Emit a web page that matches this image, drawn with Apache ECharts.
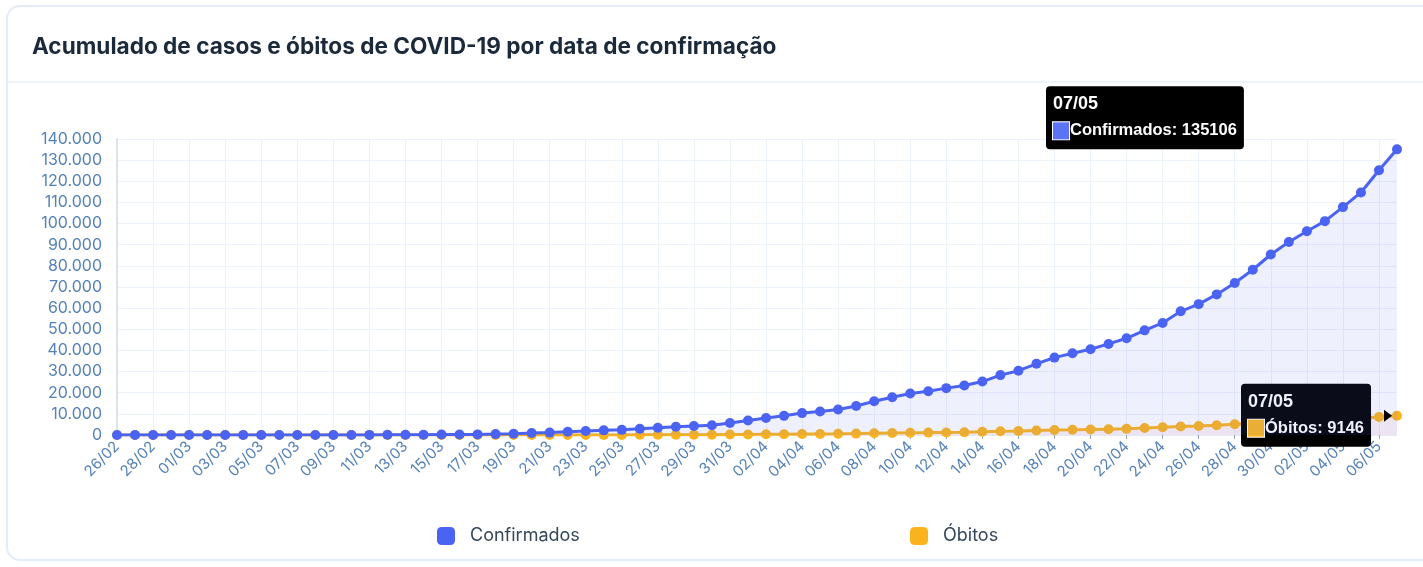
<!DOCTYPE html>
<html>
<head>
<meta charset="utf-8">
<script src="https://cdn.jsdelivr.net/npm/echarts@6/dist/echarts.min.js"></script>
<style>
    html, body { margin: 0; padding: 0; background: #fff; }
    .card {
        position: absolute; left: 6px; top: 5px; width: 1440px; height: 556px;
        border: 2px solid #e4ecf7; border-radius: 14px; box-sizing: border-box;
    }
    .card .sep { position: absolute; left: 0; right: 0; top: 74px; border-top: 2px solid #eef3fa; }
    #chart { position: absolute; left: 0; top: 0; width: 1423px; height: 567px; }
</style>
</head>
<body>
<div class="card"><div class="sep"></div></div>
<div id="chart"></div>
<script>
// datas 26/02 -> 07/05
const categorias = [
    '26/02', '27/02', '28/02', '29/02',
    '01/03', '02/03', '03/03', '04/03', '05/03', '06/03', '07/03', '08/03', '09/03', '10/03',
    '11/03', '12/03', '13/03', '14/03', '15/03', '16/03', '17/03', '18/03', '19/03', '20/03',
    '21/03', '22/03', '23/03', '24/03', '25/03', '26/03', '27/03', '28/03', '29/03', '30/03', '31/03',
    '01/04', '02/04', '03/04', '04/04', '05/04', '06/04', '07/04', '08/04', '09/04', '10/04',
    '11/04', '12/04', '13/04', '14/04', '15/04', '16/04', '17/04', '18/04', '19/04', '20/04',
    '21/04', '22/04', '23/04', '24/04', '25/04', '26/04', '27/04', '28/04', '29/04', '30/04',
    '01/05', '02/05', '03/05', '04/05', '05/05', '06/05', '07/05',
];
const confirmados = [
    1, 1, 1, 2,
    2, 2, 2, 3, 8, 13, 19, 25, 25, 34,
    52, 77, 98, 121, 200, 234, 291, 428, 621, 904,
    1128, 1546, 1891, 2201, 2433, 2915, 3417, 3904, 4256, 4579, 5717,
    6836, 8044, 9056, 10360, 11130, 12056, 13717, 15927, 17857, 19638,
    20727, 22169, 23430, 25262, 28320, 30425, 33682, 36599, 38654, 40581,
    43079, 45757, 49492, 52995, 58509, 61888, 66501, 71886, 78162, 85380,
    91299, 96396, 101147, 107780, 114715, 125218, 135106,
];
const obitos = [
    0, 0, 0, 0,
    0, 0, 0, 0, 0, 0, 0, 0, 0, 0,
    0, 0, 0, 0, 0, 0, 1, 4, 7, 11,
    18, 25, 34, 46, 57, 77, 92, 111, 136, 159, 201,
    240, 324, 359, 445, 486, 553, 667, 800, 941, 1056,
    1124, 1223, 1328, 1532, 1736, 1924, 2141, 2354, 2462, 2587,
    2741, 2906, 3331, 3704, 4057, 4286, 4603, 5083, 5513, 6006,
    6412, 6761, 7025, 7321, 7921, 8536, 9146,
];
const yMax = 140000;
const yStep = 10000;

const azul = '#4b63f3';
const amarelo = '#fbb31d';
const corEixo = '#5482b8';

const chart = echarts.init(document.getElementById('chart'));

// caixa tipo tooltip no ultimo ponto
const caixa = (cor, nome) => ({
    show: true,
    backgroundColor: '#000',
    borderRadius: 4,
    padding: [5, 7, 5, 7],
    align: 'left',
    verticalAlign: 'top',
    formatter: (p) => `{t|${p.name}}\n{sq|}{v|${nome}: ${p.value}}`,
    rich: {
        t: { color: '#fff', fontSize: 18, fontWeight: 'bold', fontFamily: 'Liberation Sans', lineHeight: 26 },
        sq: { backgroundColor: cor, borderColor: '#fff', borderWidth: 1, width: 16, height: 17 },
        v: { color: '#fff', fontSize: 16.5, fontWeight: 'bold', fontFamily: 'Liberation Sans', lineHeight: 27, padding: [0, 0, 0, 1] },
    },
});

const ultimo = (arr, label) => arr.map((v, i) => (i === arr.length - 1 ? { value: v, label } : v));

const legendaBase = {
    top: 527,
    padding: 0,
    itemWidth: 18,
    itemHeight: 18,
    icon: 'roundRect',
    textStyle: { fontFamily: 'Inter', fontSize: 18, color: '#34475b', padding: [0, 0, 0, 10] },
};

const option = {
    animation: false,
    title: {
        text: 'Acumulado de casos e óbitos de COVID-19 por data de confirmação',
        left: 27,
        top: 31,
        textStyle: { fontFamily: 'Inter', fontSize: 22.6, fontWeight: 'bold', color: '#1b2a3a' },
    },
    legend: [
        Object.assign({ data: ['Confirmados'], left: 437 }, legendaBase),
        Object.assign({ data: ['Óbitos'], left: 910 }, legendaBase),
    ],
    grid: { left: 117, right: 26, top: 139, bottom: 132, containLabel: false },
    xAxis: {
        type: 'category',
        boundaryGap: false,
        data: categorias,
        axisLine: { lineStyle: { color: '#e3e9f1' } },
        axisTick: { show: true, interval: 1, length: 4, lineStyle: { color: '#9aa6b5' } },
        axisLabel: {
            interval: 1,
            rotate: 45,
            margin: 9,
            color: corEixo,
            fontFamily: 'Inter',
            fontSize: 15,
        },
        splitLine: { show: true, interval: 1, lineStyle: { color: '#ecf2fa', width: 1 } },
    },
    yAxis: {
        type: 'value',
        min: 0,
        max: yMax,
        interval: yStep,
        axisLine: { show: true, lineStyle: { color: '#dde3ea', width: 2 } },
        axisLabel: {
            color: corEixo,
            fontFamily: 'Inter',
            fontSize: 16,
            margin: 15,
            formatter: (v) => v.toLocaleString('pt-BR'),
        },
        splitLine: { lineStyle: { color: '#ecf2fa', width: 1 } },
    },
    series: [
        {
            name: 'Confirmados',
            type: 'line',
            z: 3,
            data: ultimo(confirmados, Object.assign(caixa('#5b73f7', 'Confirmados'), { position: [-346, -58] })),
            symbol: 'circle',
            symbolSize: 10,
            lineStyle: { color: azul, width: 3 },
            itemStyle: { color: azul },
            areaStyle: { color: 'rgba(91,110,245,0.15)' },
        },
        {
            name: 'Óbitos',
            type: 'line',
            z: 2,
            data: ultimo(obitos, Object.assign(caixa('#fbb520', 'Óbitos'), { position: [-151, -27] })),
            symbol: 'circle',
            symbolSize: 10,
            lineStyle: { color: amarelo, width: 3 },
            itemStyle: { color: amarelo },
            areaStyle: { color: 'rgba(240,150,140,0.18)' },
            markPoint: {
                silent: true,
                symbol: 'triangle',
                symbolSize: [12, 8],
                symbolRotate: -90,
                symbolOffset: [-9, 0],
                itemStyle: { color: '#000' },
                label: { show: false },
                data: [{ coord: [categorias.length - 1, obitos[obitos.length - 1]] }],
            },
        },
    ],
};

chart.setOption(option);
</script>
</body>
</html>
